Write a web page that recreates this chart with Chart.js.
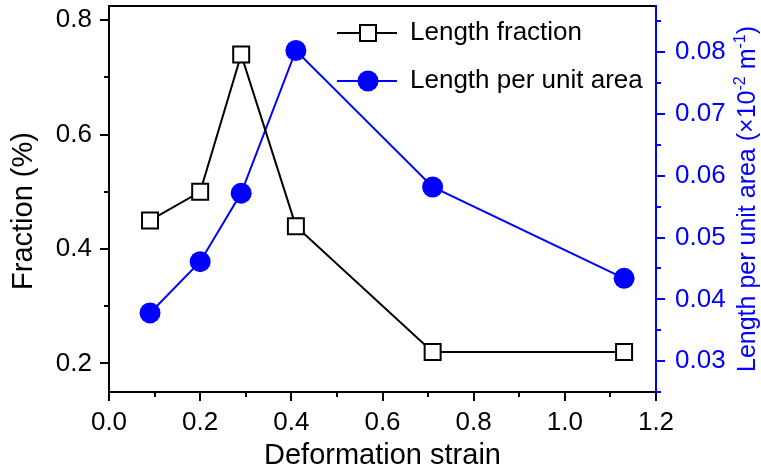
<!DOCTYPE html>
<html>
<head>
<meta charset="utf-8">
<script src="https://cdn.jsdelivr.net/npm/chart.js@4.4.1/dist/chart.umd.min.js"></script>
<style>
  html, body { margin: 0; padding: 0; background: #fff; }
</style>
</head>
<body>
<canvas id="grafico" width="761" height="474"></canvas>
<script>
// strain values (x) and the two measured series
const strain = [0.09, 0.2, 0.29, 0.41, 0.71, 1.13];
const lengthFraction = [0.45, 0.5, 0.74, 0.44, 0.22, 0.22];
const lengthPerArea = [0.0378, 0.0461, 0.0572, 0.0803, 0.0582, 0.0434];

// ticks: labelled (major) and unlabelled (minor)
const xMajor = [0, 0.2, 0.4, 0.6, 0.8, 1.0, 1.2];
const xMinor = [0.1, 0.3, 0.5, 0.7, 0.9, 1.1];
const yMajor = [0.2, 0.4, 0.6, 0.8];
const yMinor = [0.3, 0.5, 0.7];
const y1Major = [0.03, 0.04, 0.05, 0.06, 0.07, 0.08];
const y1Minor = [0.025, 0.035, 0.045, 0.055, 0.065, 0.075, 0.085];

const FONT = "'Liberation Sans', Arial, sans-serif";
const BLUE = '#0000ff';

const majorMinor = {
  x: [xMajor, xMinor],
  y: [yMajor, yMinor],
  y1: [y1Major, y1Minor]
};

// fixed axis sizes
function fixSize(w, h) {
  return s => {
    if (w) s.width = w;
    if (h) s.height = h;
  };
}

// invisible chart.js ticks only used as a gap between axis and labels
function gap(len) {
  return { display: true, drawOnChartArea: false, drawTicks: true, tickLength: len, tickColor: 'rgba(0,0,0,0)' };
}

// outward tick marks, long for labelled values, short for the rest
const tickMarks = {
  id: 'tickMarks',
  afterDraw(chart) {
    const ctx = chart.ctx;
    Object.keys(majorMinor).forEach(id => {
      const scale = chart.scales[id];
      const color = id === 'y1' ? BLUE : '#000';
      const [major, minor] = majorMinor[id];
      ctx.save();
      ctx.strokeStyle = color;
      ctx.lineWidth = 2;
      const draw = (v, len) => {
        const p = Math.round(scale.getPixelForValue(v));
        ctx.beginPath();
        if (id === 'x') {
          ctx.moveTo(p, scale.top);
          ctx.lineTo(p, scale.top + len);
        } else if (id === 'y') {
          ctx.moveTo(scale.right, p);
          ctx.lineTo(scale.right - len, p);
        } else {
          ctx.moveTo(scale.left, p);
          ctx.lineTo(scale.left + len, p);
        }
        ctx.stroke();
      };
      major.forEach(v => draw(v, 9));
      minor.forEach(v => draw(v, 5));
      ctx.restore();
    });
  }
};

// frame top, y-axis titles and the legend
const extras = {
  id: 'extras',
  afterDraw(chart) {
    const ctx = chart.ctx;
    const area = chart.chartArea;
    ctx.save();

    ctx.strokeStyle = '#000';
    ctx.lineWidth = 2;
    ctx.beginPath();
    ctx.moveTo(area.left - 1, area.top);
    ctx.lineTo(area.right, area.top);
    ctx.stroke();

    // left title
    ctx.save();
    ctx.translate(24, 211);
    ctx.rotate(-Math.PI / 2);
    ctx.font = '29px ' + FONT;
    ctx.fillStyle = '#000';
    ctx.textAlign = 'center';
    ctx.textBaseline = 'middle';
    ctx.fillText('Fraction (%)', 0, 0);
    ctx.restore();

    // right title with superscripts
    const parts = [
      { t: 'Length per unit area (×10', sup: false },
      { t: '-2', sup: true },
      { t: ' m', sup: false },
      { t: '-1', sup: true },
      { t: ')', sup: false }
    ];
    const big = '25px ' + FONT, small = '16px ' + FONT;
    let total = 0;
    parts.forEach(p => { ctx.font = p.sup ? small : big; p.w = ctx.measureText(p.t).width; total += p.w; });
    ctx.save();
    ctx.translate(746, (area.top + area.bottom) / 2);
    ctx.rotate(-Math.PI / 2);
    ctx.fillStyle = BLUE;
    ctx.textBaseline = 'alphabetic';
    ctx.textAlign = 'left';
    let cx = -total / 2;
    parts.forEach(p => {
      ctx.font = p.sup ? small : big;
      ctx.fillText(p.t, cx, p.sup ? -1 : 9);
      cx += p.w;
    });
    ctx.restore();

    // legend
    const rows = [
      { y: area.top + 27, ds: chart.data.datasets[0] },
      { y: area.top + 75, ds: chart.data.datasets[1] }
    ];
    rows.forEach(r => {
      ctx.strokeStyle = r.ds.borderColor;
      ctx.lineWidth = 2;
      ctx.beginPath();
      ctx.moveTo(337, r.y);
      ctx.lineTo(397, r.y);
      ctx.stroke();
      ctx.fillStyle = r.ds.pointBackgroundColor;
      ctx.strokeStyle = r.ds.pointBorderColor;
      ctx.lineWidth = r.ds.pointBorderWidth;
      Chart.helpers.drawPoint(ctx, {
        pointStyle: r.ds.pointStyle,
        radius: r.ds.pointRadius,
        rotation: 0,
        borderWidth: r.ds.pointBorderWidth
      }, 368, r.y);
      ctx.fillStyle = '#000';
      ctx.font = '26px ' + FONT;
      ctx.textAlign = 'left';
      ctx.textBaseline = 'middle';
      ctx.fillText(r.ds.label, 410, r.y);
    });

    ctx.restore();
  }
};

new Chart(document.getElementById('grafico'), {
  type: 'line',
  data: {
    datasets: [
      {
        label: 'Length fraction',
        data: strain.map((x, i) => ({ x: x, y: lengthFraction[i] })),
        yAxisID: 'y',
        borderColor: '#000',
        borderWidth: 2,
        pointStyle: 'rect',
        pointRadius: 11.3,
        pointBackgroundColor: '#fff',
        pointBorderColor: '#000',
        pointBorderWidth: 2,
        tension: 0
      },
      {
        label: 'Length per unit area',
        data: strain.map((x, i) => ({ x: x, y: lengthPerArea[i] })),
        yAxisID: 'y1',
        borderColor: BLUE,
        borderWidth: 2,
        pointStyle: 'circle',
        pointRadius: 10.5,
        pointBackgroundColor: BLUE,
        pointBorderColor: BLUE,
        pointBorderWidth: 0,
        tension: 0
      }
    ]
  },
  options: {
    responsive: false,
    animation: false,
    clip: false,
    // big markers would otherwise push the plot box inward
    layout: { autoPadding: false, padding: { top: 6, left: 0, right: 0, bottom: 0 } },
    plugins: {
      legend: { display: false },
      tooltip: { enabled: false }
    },
    scales: {
      x: {
        type: 'linear',
        min: 0,
        max: 1.2,
        afterFit: fixSize(0, 82),
        afterBuildTicks: s => { s.ticks = xMajor.map(v => ({ value: v })); },
        grid: { display: false, drawTicks: false },
        border: { display: true, color: '#000', width: 2 },
        ticks: {
          padding: 18,
          color: '#000',
          maxRotation: 0,
          font: { family: FONT, size: 26, lineHeight: 1 },
          callback: v => v.toFixed(1)
        },
        title: {
          display: true,
          text: 'Deformation strain',
          color: '#000',
          font: { family: FONT, size: 29, lineHeight: 1 },
          padding: { top: 0, bottom: 4 }
        }
      },
      y: {
        position: 'left',
        min: 0.15,
        max: 0.825,
        afterFit: fixSize(109, 0),
        afterBuildTicks: s => { s.ticks = yMajor.map(v => ({ value: v })); },
        grid: gap(17),
        border: { display: true, color: '#000', width: 2 },
        ticks: {
          padding: 0,
          color: '#000',
          // tiny line height keeps the end labels from padding the plot
          font: { family: FONT, size: 26, lineHeight: 0.1 },
          callback: v => v.toFixed(1)
        }
      },
      y1: {
        position: 'right',
        min: 0.025,
        max: 0.0875,
        afterFit: fixSize(105, 0),
        afterBuildTicks: s => { s.ticks = y1Major.map(v => ({ value: v })); },
        grid: gap(19),
        border: { display: true, color: BLUE, width: 2 },
        ticks: {
          padding: 0,
          color: BLUE,
          font: { family: FONT, size: 26, lineHeight: 0.1 },
          callback: v => v.toFixed(2)
        }
      }
    }
  },
  plugins: [tickMarks, extras]
});
</script>
</body>
</html>
